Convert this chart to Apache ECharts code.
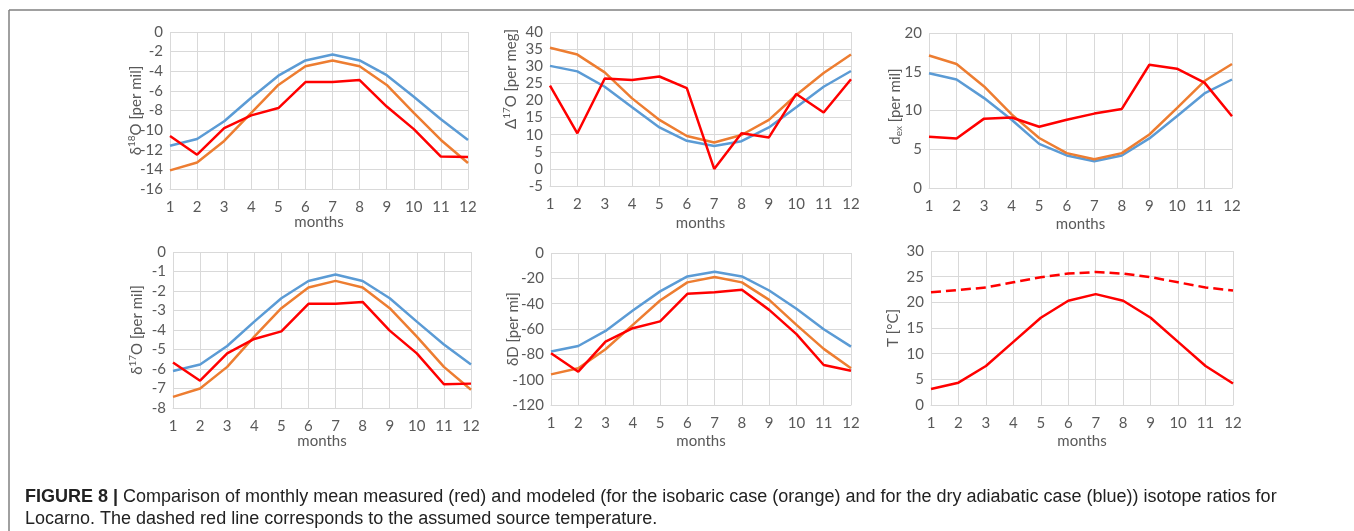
<!DOCTYPE html>
<html>
<head>
<meta charset="utf-8">
<script src="https://cdn.jsdelivr.net/npm/echarts@6/dist/echarts.min.js"></script>
<style>
  html, body { margin: 0; padding: 0; background: #fff; }
  #chart { width: 1354px; height: 531px; }
</style>
</head>
<body>
<div id="chart"></div>
<script>
// ---- data ----
const months = ['1','2','3','4','5','6','7','8','9','10','11','12'];

// δ18O [per mil]
const d18O_dry      = [-11.6, -10.9, -9.1, -6.7, -4.45, -2.9, -2.3, -2.9, -4.4, -6.6, -8.9, -11.0];
const d18O_isobaric = [-14.1, -13.3, -11.1, -8.25, -5.4, -3.5, -2.9, -3.5, -5.4, -8.25, -11.0, -13.35];
const d18O_measured = [-10.6, -12.5, -9.8, -8.5, -7.75, -5.1, -5.1, -4.9, -7.6, -9.9, -12.7, -12.75];

// Δ17O [per meg]
const D17O_dry      = [30.1, 28.5, 24.0, 18.0, 12.1, 8.2, 6.7, 8.1, 12.1, 18.0, 24.0, 28.6];
const D17O_isobaric = [35.4, 33.4, 28.2, 20.6, 14.3, 9.6, 7.7, 9.9, 14.3, 21.6, 28.0, 33.4];
const D17O_measured = [24.3, 10.4, 26.4, 26.0, 27.0, 23.6, 0.0, 10.4, 9.2, 21.9, 16.5, 26.2];

// d_ex [per mil]
const dex_dry      = [14.8, 14.0, 11.6, 8.8, 5.7, 4.2, 3.45, 4.2, 6.4, 9.25, 12.2, 14.0];
const dex_isobaric = [17.1, 16.0, 13.1, 9.5, 6.45, 4.5, 3.7, 4.5, 6.9, 10.3, 13.8, 16.0];
const dex_measured = [6.6, 6.4, 8.95, 9.1, 7.9, 8.8, 9.6, 10.2, 15.9, 15.4, 13.6, 9.25];

// δ17O [per mil]
const d17O_dry      = [-6.1, -5.77, -4.82, -3.57, -2.37, -1.49, -1.15, -1.49, -2.37, -3.57, -4.74, -5.77];
const d17O_isobaric = [-7.43, -7.0, -5.89, -4.34, -2.88, -1.82, -1.48, -1.82, -2.88, -4.34, -5.89, -7.06];
const d17O_measured = [-5.67, -6.6, -5.2, -4.46, -4.07, -2.66, -2.66, -2.56, -4.03, -5.2, -6.78, -6.75];

// δD [per mil]
const dD_dry      = [-77.8, -73.4, -61.5, -45.4, -30.3, -18.5, -14.8, -18.5, -29.6, -44.0, -60.2, -73.9];
const dD_isobaric = [-95.8, -91.0, -76.0, -56.7, -37.5, -23.2, -19.0, -23.2, -37.0, -56.7, -75.7, -91.0];
const dD_measured = [-79.2, -93.7, -70.0, -59.4, -54.0, -32.2, -30.9, -29.0, -44.9, -64.0, -88.4, -93.0];

// T [°C]
const T_measured = [3.1, 4.35, 7.6, 12.3, 17.0, 20.3, 21.6, 20.3, 17.0, 12.3, 7.6, 4.2];
const T_source   = [21.95, 22.4, 22.9, 23.9, 24.9, 25.6, 25.9, 25.6, 24.9, 23.9, 22.9, 22.3];

// ---- styling ----
const BLUE = '#5B9BD5', ORANGE = '#ED7D31', RED = '#FF0000';
const GRIDC = '#D9D9D9', TXT = '#595959';
const FONT = 'Lato';

const panels = [
  { grid: {left:170, top:32, width:298, height:157}, min:-16, max:0, interval:2,
    name:'{t|δ}{sp|18}{t|O [per mil]}', nameGap:25, xNameGap:26, shift:0,
    series:[[d18O_dry,BLUE],[d18O_isobaric,ORANGE],[d18O_measured,RED]] },
  { grid: {left:550, top:32, width:301, height:154}, min:-5, max:40, interval:5,
    name:'{t|Δ}{sp|17}{t|O [per meg]}', nameGap:30, xNameGap:30, shift:60,
    series:[[D17O_dry,BLUE],[D17O_isobaric,ORANGE],[D17O_measured,RED]] },
  { grid: {left:929, top:33, width:303, height:155}, min:0, max:20, interval:5,
    name:'{t|d}{sb|ex}{t| [per mil]}', nameGap:25, xNameGap:29, shift:8,
    series:[[dex_dry,BLUE],[dex_isobaric,ORANGE],[dex_measured,RED]] },
  { grid: {left:173, top:252, width:298, height:156}, min:-8, max:0, interval:1,
    name:'{t|δ}{sp|17}{t|O [per mil]}', nameGap:27, xNameGap:26, shift:0,
    series:[[d17O_dry,BLUE],[d17O_isobaric,ORANGE],[d17O_measured,RED]] },
  { grid: {left:551, top:253, width:300, height:152}, min:-120, max:0, interval:20,
    name:'{t|δD [per mi]}', nameGap:29, xNameGap:29, shift:0,
    series:[[dD_dry,BLUE],[dD_isobaric,ORANGE],[dD_measured,RED]] },
  { grid: {left:931, top:251, width:302, height:154}, min:0, max:30, interval:5,
    name:'{t|T [°C]}', nameGap:29, xNameGap:29, shift:0,
    series:[[T_source,RED,'dashed'],[T_measured,RED]] }
];

const grids = [], xAxes = [], yAxes = [], series = [];
panels.forEach((p, i) => {
  grids.push(Object.assign({containLabel:false}, p.grid));
  xAxes.push({
    type:'category', gridIndex:i, data:months, boundaryGap:false,
    axisLine:{onZero:false, lineStyle:{color:GRIDC, width:1}},
    axisTick:{show:false},
    axisLabel:{color:TXT, fontFamily:FONT, fontSize:15, margin:11},
    splitLine:{show:true, lineStyle:{color:GRIDC, width:1}},
    name:'months', nameLocation:'middle', nameGap:p.xNameGap, nameMoveOverlap:false,
    nameTextStyle:{color:TXT, fontFamily:FONT, fontSize:15}
  });
  yAxes.push({
    type:'value', gridIndex:i, min:p.min, max:p.max, interval:p.interval,
    axisLine:{show:false}, axisTick:{show:false},
    axisLabel:{color:TXT, fontFamily:FONT, fontSize:15, margin:7},
    splitLine:{show:true, lineStyle:{color:GRIDC, width:1}},
    name:p.name, nameLocation:'middle', nameRotate:90, nameGap:p.nameGap, nameMoveOverlap:false,
    nameTextStyle:{
      color:TXT, fontFamily:FONT, fontSize:15,
      padding:[0, 0, 0, p.shift],
      rich:{
        t:{color:TXT, fontFamily:FONT, fontSize:15, lineHeight:18},
        sp:{color:TXT, fontFamily:FONT, fontSize:10, lineHeight:18, verticalAlign:'top'},
        sb:{color:TXT, fontFamily:FONT, fontSize:10, lineHeight:18, verticalAlign:'bottom'}
      }
    }
  });
  p.series.forEach(s => {
    series.push({
      type:'line', xAxisIndex:i, yAxisIndex:i, data:s[0],
      showSymbol:false, symbol:'none', silent:true, animation:false,
      lineStyle:{color:s[1], width:2.5, type:s[2] || 'solid'}
    });
  });
});

const chart = echarts.init(document.getElementById('chart'), null, {renderer:'canvas'});
chart.setOption({
  animation:false,
  grid:grids, xAxis:xAxes, yAxis:yAxes, series:series,
  graphic:[
    {type:'line', shape:{x1:9, y1:10, x2:1354, y2:10}, style:{stroke:'#808080', lineWidth:1.5}},
    {type:'line', shape:{x1:9, y1:10, x2:9, y2:531}, style:{stroke:'#808080', lineWidth:1.5}},
    {type:'text', left:25, top:488, style:{
      text:'{b|FIGURE 8 |} Comparison of monthly mean measured (red) and modeled (for the isobaric case (orange) and for the dry adiabatic case (blue)) isotope ratios for',
      fill:'#222', fontFamily:'Liberation Sans', fontSize:18,
      rich:{b:{fill:'#222', fontFamily:'Liberation Sans', fontSize:18, fontWeight:'bold'}}
    }},
    {type:'text', left:25, top:510, style:{
      text:'Locarno. The dashed red line corresponds to the assumed source temperature.',
      fill:'#222', fontFamily:'Liberation Sans', fontSize:18
    }}
  ]
});
</script>
</body>
</html>
